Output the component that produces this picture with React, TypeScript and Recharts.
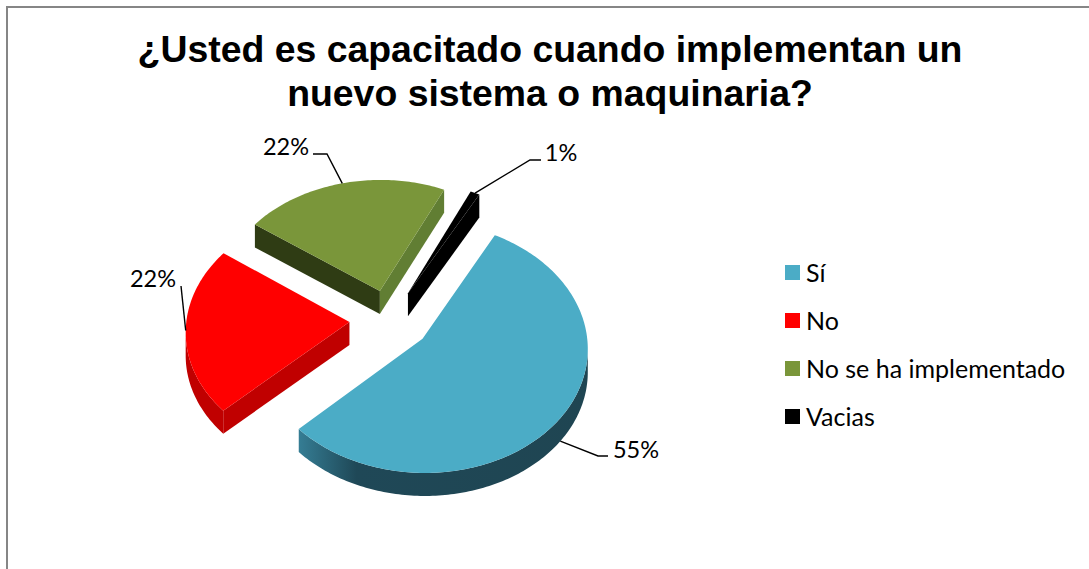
import { Legend, Pie, PieChart } from 'recharts';

const categories = ['Sí', 'No', 'No se ha implementado', 'Vacias'];
const percentages = [55, 22, 22, 1];

const topColors = ['#4bacc6', '#ff0000', '#7a963a', '#000000'];
const arcWallColors = ['url(#blueRim)', '#c00000', '#617e33', '#000000'];
const entryWallColors = ['#1f4552', '#c00000', '#2f3c14', '#000000'];
const exitWallColors = ['#1f4552', '#c00000', '#617e33', '#000000'];

// label placement, one entry per slice: leader elbow points and text centre
const leaderBends = [
  [[598, 456], [608, 456]],
  [[181, 286]],
  [[327, 154], [313, 154]],
  [[530, 160], [541, 160]],
];
const leaderDrops = [23, 0, 0, 0];
const labelCentres = [[636, 449], [153, 278], [286, 146], [561, 152]];

const rows = categories.map((name, i) => ({ name, value: percentages[i], fill: topColors[i] }));

const WIDTH = 1089;
const HEIGHT = 569;
const EXPLODE = 0.249;
const TILT = 0.751;
const PERSPECTIVE = 0.068;
const DEPTH = 23;
const RAD = Math.PI / 180;

type Pt = [number, number];

// Ground-plane point of a slice (exploded along its mid angle) to screen, with a little perspective
function project(cx: number, cy: number, r: number, mid: number, angle: number | null): Pt {
  const gx = EXPLODE * Math.cos(mid * RAD) + (angle === null ? 0 : Math.cos(angle * RAD));
  const gy = -EXPLODE * Math.sin(mid * RAD) - (angle === null ? 0 : Math.sin(angle * RAD));
  const s = 1 / (1 - PERSPECTIVE * gy);
  return [cx + r * gx * s, cy + r * TILT * gy * s];
}

const toPath = (pts: Pt[]) => 'M' + pts.map((p) => `${p[0].toFixed(2)},${p[1].toFixed(2)}`).join('L') + 'Z';
const dropped = (pts: Pt[]): Pt[] => pts.map((p) => [p[0], p[1] + DEPTH] as Pt).reverse();

function Slice3D(props: any) {
  const { cx, cy, outerRadius, startAngle, endAngle, fill, index } = props;
  const mid = (startAngle + endAngle) / 2;
  const apex = project(cx, cy, outerRadius, mid, null);
  const rim: Pt[] = [];
  const steps = Math.max(4, Math.ceil(Math.abs(startAngle - endAngle)));
  for (let i = 0; i <= steps; i++) {
    rim.push(project(cx, cy, outerRadius, mid, startAngle + ((endAngle - startAngle) * i) / steps));
  }
  // Only edges running right to left sit on the lower side of the top face
  const arc = rim.filter((p, i) => (i < steps && rim[i + 1][0] < p[0]) || (i > 0 && p[0] < rim[i - 1][0]));
  const first = rim[0];
  const last = rim[rim.length - 1];
  return (
    <g>
      {index === 0 && (
        <defs>
          <linearGradient id="blueRim" x1="0" x2="1" y1="0" y2="0">
            <stop offset="0" stopColor="#357d94" />
            <stop offset="0.2" stopColor="#1f4857" />
            <stop offset="1" stopColor="#1f4552" />
          </linearGradient>
        </defs>
      )}
      {first[0] < apex[0] && <path d={toPath([apex, first, ...dropped([apex, first])])} fill={entryWallColors[index]} />}
      {last[0] > apex[0] && <path d={toPath([last, apex, ...dropped([last, apex])])} fill={exitWallColors[index]} />}
      {arc.length > 1 && <path d={toPath([...arc, ...dropped(arc)])} fill={arcWallColors[index]} />}
      <path d={toPath([apex, ...rim])} fill={fill} />
    </g>
  );
}

function SliceLabel(props: any) {
  const { cx, cy, outerRadius, startAngle, endAngle, index, percent } = props;
  const mid = (startAngle + endAngle) / 2;
  const anchor = project(cx, cy, outerRadius, mid, mid);
  const points = [[anchor[0], anchor[1] + leaderDrops[index]], ...leaderBends[index]];
  const [tx, ty] = labelCentres[index];
  return (
    <g>
      <polyline points={points.map((p) => p.join(',')).join(' ')} fill="none" stroke="#000" strokeWidth={1.4} />
      <text x={tx} y={ty} textAnchor="middle" dominantBaseline="central" fontFamily="Lato" fontSize={23.5} fill="#000">
        {`${Math.round(percent * 100)}%`}
      </text>
    </g>
  );
}

function LegendList({ payload }: any) {
  return (
    <div>
      {(payload || []).map((item: any) => (
        <div key={item.value} style={{ height: 48, display: 'flex', alignItems: 'center', fontFamily: 'Lato', fontSize: 25, color: '#000' }}>
          <span style={{ width: 15, height: 15, background: item.color, marginRight: 6 }} />
          {item.value}
        </div>
      ))}
    </div>
  );
}

export default function App() {
  return (
    <div style={{ position: 'absolute', left: 0, top: 0, width: WIDTH, height: HEIGHT, overflow: 'hidden', background: '#fff' }}>
      <div style={{ position: 'absolute', left: 6, top: 6, width: 1200, height: 700, border: '2px solid #868686' }} />
      <div
        style={{
          position: 'absolute',
          left: 0,
          top: 28,
          width: 1100,
          textAlign: 'center',
          fontFamily: 'Liberation Sans',
          fontWeight: 700,
          fontSize: 37.4,
          lineHeight: '43.5px',
          color: '#000',
        }}
      >
        ¿Usted es capacitado cuando implementan un
        <br />
        nuevo sistema o maquinaria?
      </div>
      <div style={{ position: 'absolute', left: 0, top: 0 }}>
        <PieChart width={WIDTH} height={HEIGHT} margin={{ top: 0, right: 0, bottom: 0, left: 0 }}>
          <Pie
            data={rows}
            dataKey="value"
            nameKey="name"
            cx={390}
            cy={320}
            outerRadius={163}
            startAngle={61.5}
            endAngle={-298.5}
            stroke="none"
            shape={Slice3D}
            label={SliceLabel}
            labelLine={false}
            isAnimationActive={false}
          />
          <Legend
            layout="vertical"
            align="right"
            verticalAlign="top"
            itemSorter={null}
            content={LegendList}
            wrapperStyle={{ left: 785, right: 'auto', top: 248, width: 300 }}
          />
        </PieChart>
      </div>
    </div>
  );
}
